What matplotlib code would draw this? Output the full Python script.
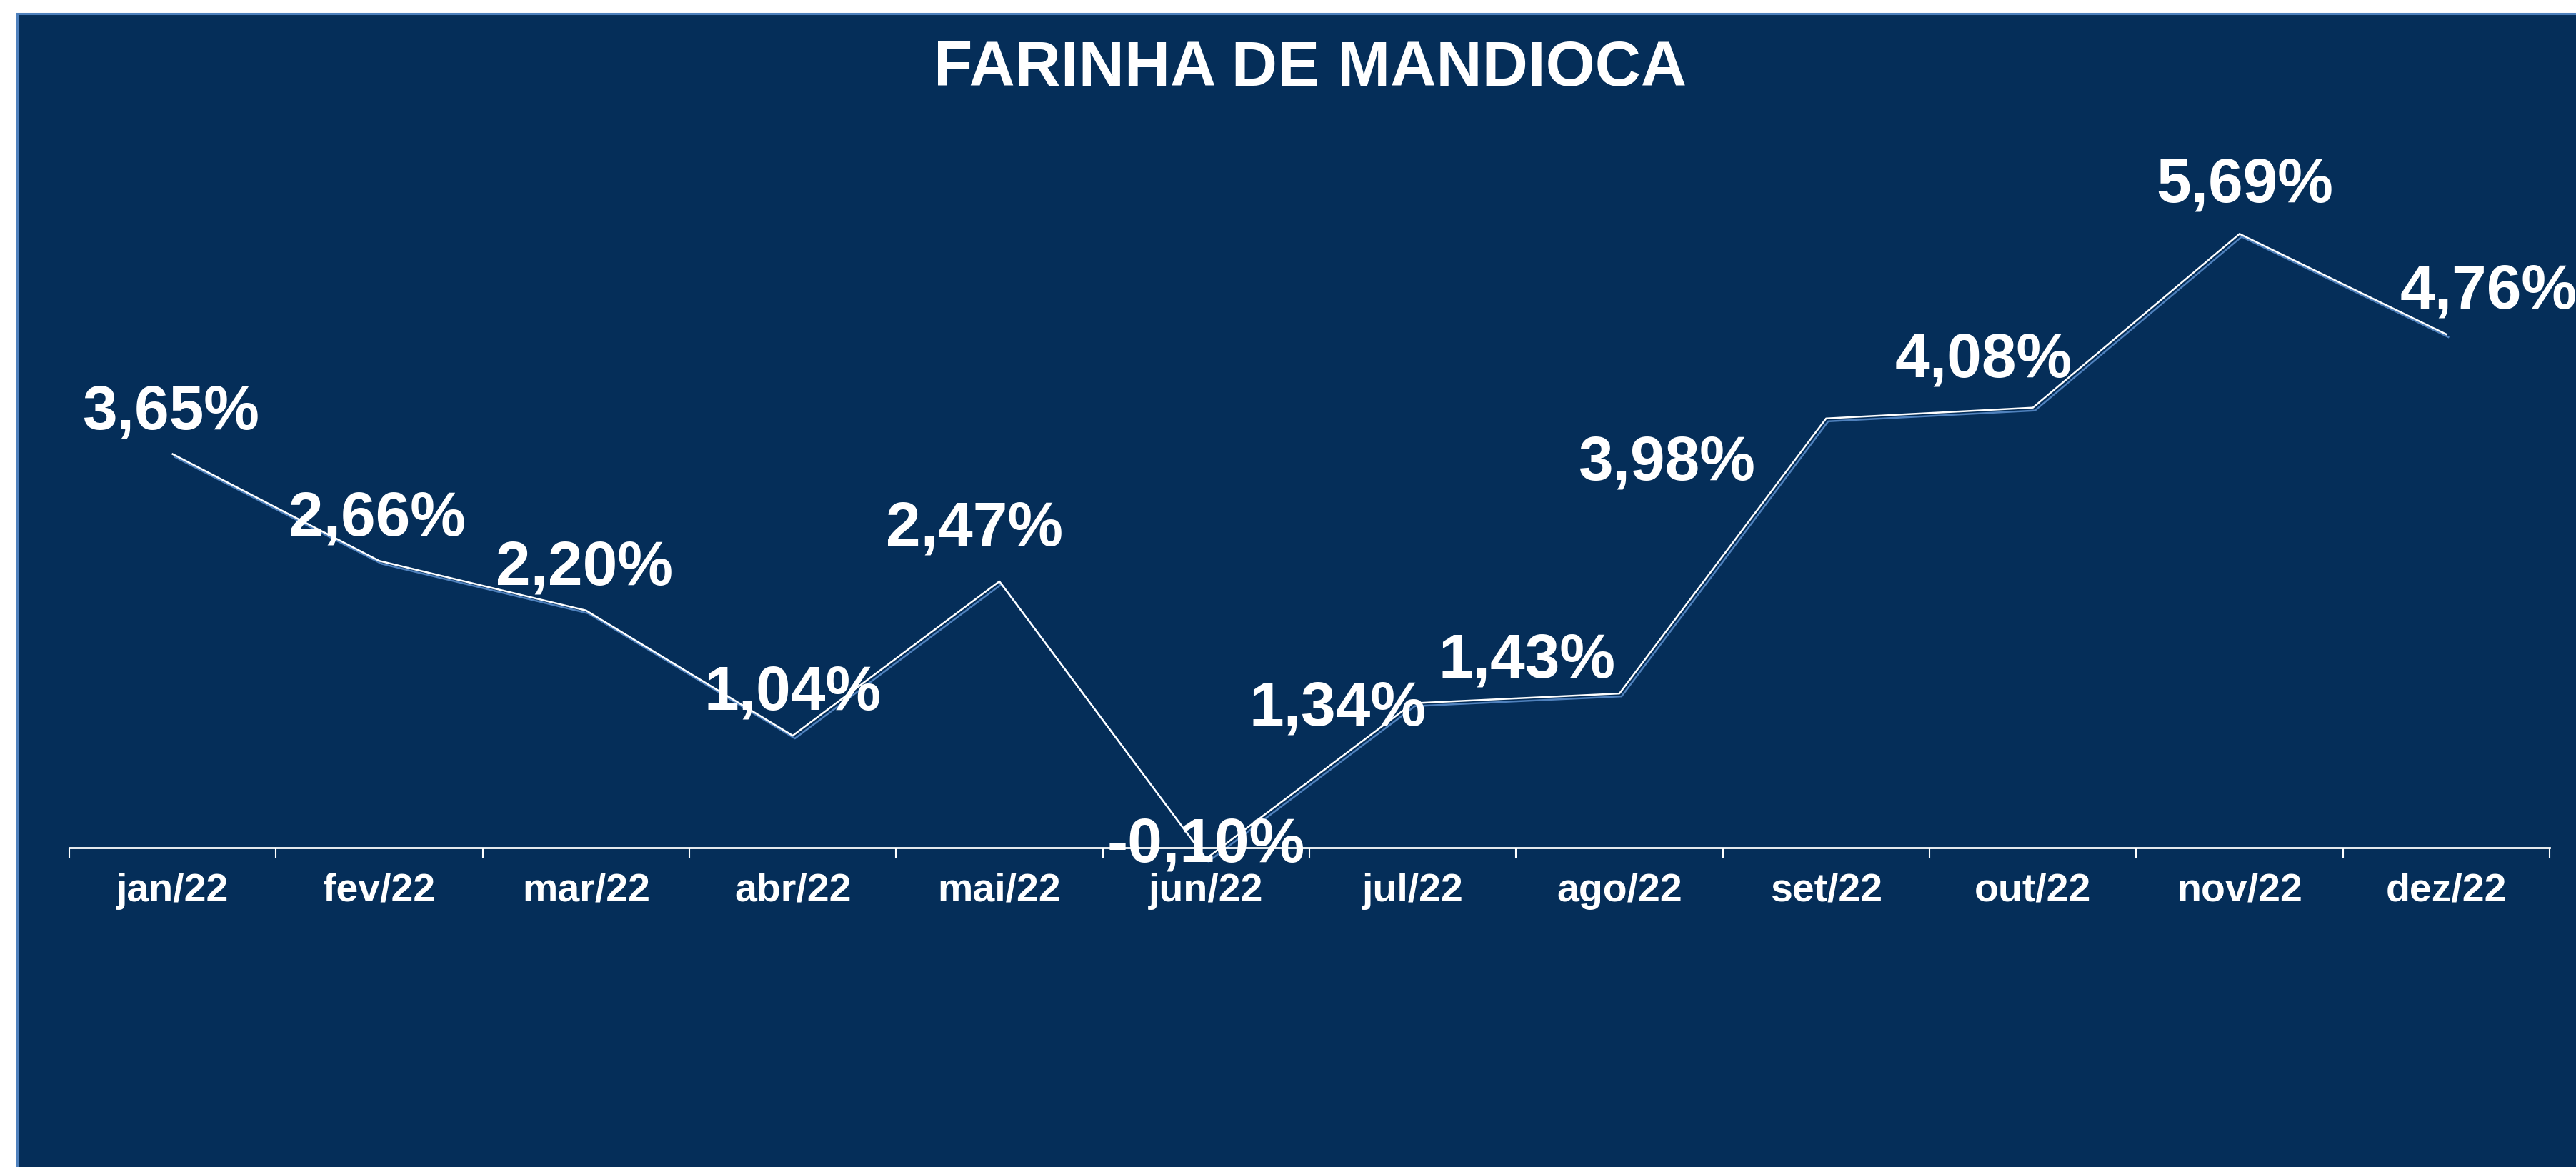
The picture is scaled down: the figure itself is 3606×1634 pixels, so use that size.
import matplotlib
matplotlib.use("Agg")
import matplotlib.pyplot as plt
import matplotlib.transforms as mtransforms
from matplotlib.patches import Rectangle

# data
months = ['jan/22', 'fev/22', 'mar/22', 'abr/22', 'mai/22', 'jun/22',
          'jul/22', 'ago/22', 'set/22', 'out/22', 'nov/22', 'dez/22']
values = [3.65, 2.66, 2.20, 1.04, 2.47, -0.10, 1.34, 1.43, 3.98, 4.08, 5.69, 4.76]

# label offsets (points) as placed in the original
label_dx = [-2, -2, -2, 0, -25, 0, -76, -93, -161, -50, 5, 43]
label_dy = [25, 26, 26, 26, 36, -3, -22, 16, -62, 31, 32, 26]

navy = '#052E59'
edge = '#4F81BD'

plt.rcParams['font.family'] = ['Liberation Sans', 'DejaVu Sans']
plt.rcParams['font.weight'] = 'bold'

W, H = 3606, 1634
fig = plt.figure(figsize=(W / 100, H / 100), dpi=100, facecolor='white')

# dark chart area with light blue border
bg = Rectangle((24 / W, -0.01), 1.0, 1 - 19 / H + 0.01, transform=fig.transFigure,
               facecolor=navy, edgecolor=edge, linewidth=2.2, zorder=-10)
fig.patches.append(bg)

ax = fig.add_axes([97 / W, 69 / H, (3569 - 97) / W, 1360 / H])
ax.set_zorder(5)
ax.patch.set_alpha(0)

x = list(range(len(months)))

# white line with a thin blue shadow below-right
shadow = mtransforms.offset_copy(ax.transData, fig=fig, x=3, y=-4, units='dots')
ax.plot(x, values, color=edge, lw=1.8, transform=shadow, zorder=2)
ax.plot(x, values, color='white', lw=1.8, zorder=3)

for i, v in enumerate(values):
    txt = f"{v:.2f}%".replace('.', ',')
    ax.annotate(txt, (i, v), xytext=(label_dx[i], label_dy[i]), textcoords='offset points',
                ha='center', va='baseline', color='white', fontsize=63,
                fontweight='bold', zorder=5, annotation_clip=False)

ax.set_xlim(-0.5, len(months) - 0.5)
ax.set_ylim(-2.5, 6.5)

for s in ['top', 'right', 'left']:
    ax.spines[s].set_visible(False)
ax.spines['bottom'].set_position(('data', 0))
ax.spines['bottom'].set_color('white')
ax.spines['bottom'].set_linewidth(2)
ax.set_yticks([])

# tick marks between categories, labels at the centres
ax.set_xticks([i - 0.5 for i in range(len(months) + 1)])
ax.set_xticklabels([])
ax.tick_params(axis='x', which='major', direction='out', length=10, width=1.5, color='white')
ax.set_xticks(x, minor=True)
ax.set_xticklabels(months, minor=True)
ax.tick_params(axis='x', which='minor', length=0, pad=25, labelsize=40, labelcolor='white')
for lab in ax.get_xticklabels(minor=True):
    lab.set_fontweight('bold')

fig.text(1834 / W, 1 - 120 / H, 'FARINHA DE MANDIOCA', ha='center', va='baseline',
         color='white', fontsize=64, fontweight='bold', zorder=6)

fig.savefig('out.png', dpi=100, facecolor='white')
